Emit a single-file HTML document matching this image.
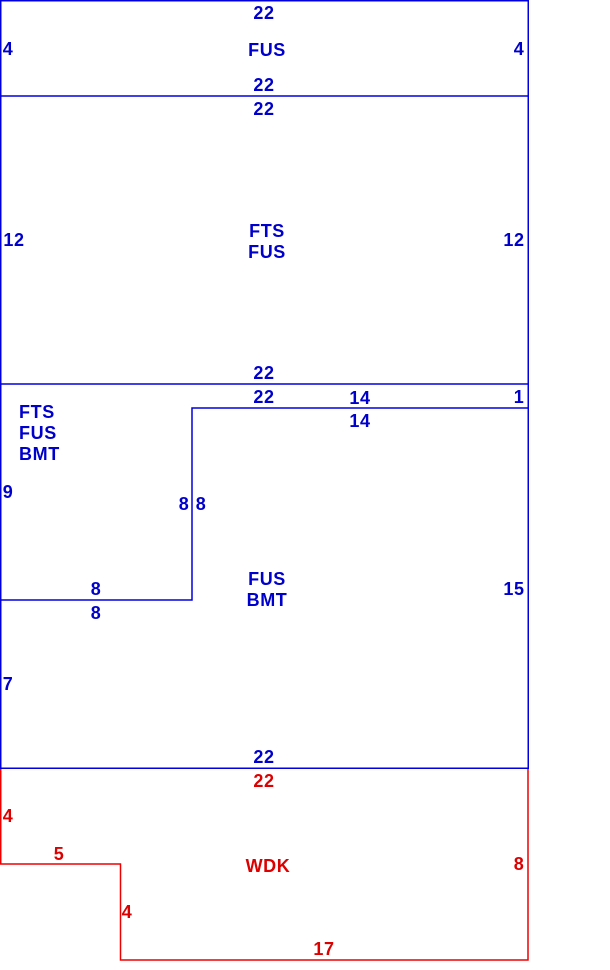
<!DOCTYPE html>
<html><head><style>
html,body{margin:0;padding:0;background:#fff;width:610px;height:970px;overflow:hidden}
svg text{font-family:"Liberation Sans",Arial,sans-serif;font-weight:bold;font-size:18px;letter-spacing:0.6px}
.b{fill:#0000cc}.r{fill:#dd0000}
</style></head><body>
<svg width="610" height="970" viewBox="0 0 610 970" xmlns="http://www.w3.org/2000/svg">
<g fill="none" stroke="#0000dd" stroke-width="1.5">
<rect x="0.75" y="0.75" width="527.5" height="767.5"/>
<line x1="0" y1="96" x2="528" y2="96"/>
<line x1="0" y1="384" x2="528" y2="384"/>
<polyline points="528,408 192,408 192,600 0,600"/>
</g>
<polyline fill="none" stroke="#ee0000" stroke-width="1.5" points="0.75,769 0.75,864 120.5,864 120.5,960 528,960 528,769"/>
<g class="b" text-anchor="middle">
<text x="264" y="19">22</text>
<text x="8" y="55">4</text>
<text x="519" y="55">4</text>
<text x="267" y="56">FUS</text>
<text x="264" y="91">22</text>
<text x="264" y="115">22</text>
<text x="14" y="246">12</text>
<text x="514" y="246">12</text>
<text x="267" y="237">FTS</text>
<text x="267" y="258">FUS</text>
<text x="264" y="379">22</text>
<text x="264" y="403">22</text>
<text x="360" y="404">14</text>
<text x="519" y="403">1</text>
<text x="360" y="427">14</text>
<text x="8" y="498">9</text>
<text x="184" y="510">8</text>
<text x="201" y="510">8</text>
<text x="96" y="595">8</text>
<text x="96" y="619">8</text>
<text x="267" y="585">FUS</text>
<text x="267" y="606">BMT</text>
<text x="514" y="595">15</text>
<text x="8" y="690">7</text>
<text x="264" y="763">22</text>
</g>
<g class="b">
<text x="19" y="418">FTS</text>
<text x="19" y="439">FUS</text>
<text x="19" y="460">BMT</text>
</g>
<g class="r" text-anchor="middle">
<text x="264" y="787">22</text>
<text x="8" y="822">4</text>
<text x="59" y="860">5</text>
<text x="268" y="872">WDK</text>
<text x="519" y="870">8</text>
<text x="127" y="918">4</text>
<text x="324" y="955">17</text>
</g>
</svg>
</body></html>
